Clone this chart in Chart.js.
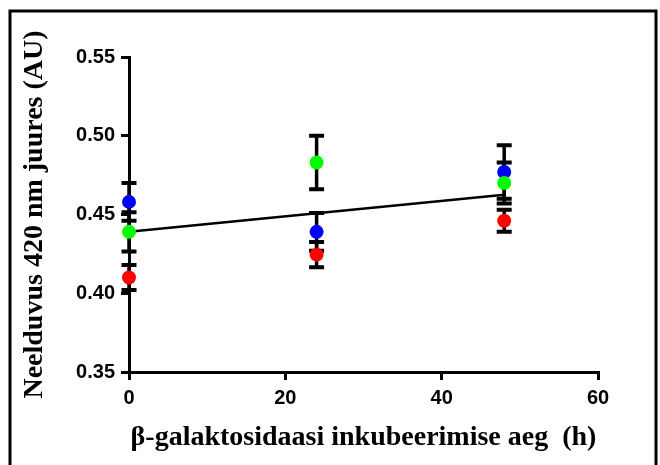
<!DOCTYPE html>
<html>
<head>
<meta charset="utf-8">
<script src="https://cdn.jsdelivr.net/npm/chart.js@4"></script>
<style>
html,body{margin:0;padding:0;background:#fff;}
#wrap{position:relative;width:660px;height:465px;overflow:hidden;}
canvas{position:absolute;left:0;top:0;}
</style>
</head>
<body>
<div id="wrap"><canvas id="c" width="660" height="465"></canvas></div>
<script>
// Data
const times = [0, 24, 48];
const blueVals = [0.458, 0.439, 0.477];
const blueErr = [0.012, 0.012, 0.017];
const greenVals = [0.439, 0.483, 0.470];
const greenErr = [0.0125, 0.017, 0.013];
const redVals = [0.410, 0.4245, 0.446];
const redErr = [0.008, 0.008, 0.007];
const fitX = [0, 48];
const fitY = [0.439, 0.4625];
const xTicks = [0, 20, 40, 60];
const yTicks = [0.35, 0.40, 0.45, 0.50, 0.55];
const xTitle = 'β-galaktosidaasi inkubeerimise aeg  (h)';
const yTitle = 'Neelduvus 420 nm juures (AU)';

function pts(xs, ys, errs) {
  return xs.map((x, i) => ({x: x, y: ys[i], err: errs ? errs[i] : 0}));
}

const frame = {
  id: 'frame',
  beforeDraw(chart) {
    const ctx = chart.ctx;
    ctx.save();
    ctx.strokeStyle = '#000';
    ctx.lineWidth = 3;
    ctx.beginPath();
    ctx.moveTo(10, 470);
    ctx.lineTo(10, 11);
    ctx.lineTo(656, 11);
    ctx.lineTo(656, 470);
    ctx.stroke();
    ctx.restore();
  }
};

const errorBars = {
  id: 'errorBars',
  beforeDatasetsDraw(chart) {
    const ctx = chart.ctx;
    const xs = chart.scales.x, ys = chart.scales.y;
    ctx.save();
    ctx.strokeStyle = '#000';
    chart.data.datasets.forEach((ds) => {
      if (!ds.showErr) return;
      ds.data.forEach((p) => {
        const px = xs.getPixelForValue(p.x);
        const top = ys.getPixelForValue(p.y + p.err);
        const bot = ys.getPixelForValue(p.y - p.err);
        ctx.lineWidth = 3.5;
        ctx.beginPath();
        ctx.moveTo(px, top);
        ctx.lineTo(px, bot);
        ctx.stroke();
        ctx.lineWidth = 4;
        ctx.beginPath();
        ctx.moveTo(px - 7.5, top);
        ctx.lineTo(px + 7.5, top);
        ctx.moveTo(px - 7.5, bot);
        ctx.lineTo(px + 7.5, bot);
        ctx.stroke();
      });
    });
    ctx.restore();
  }
};

Chart.defaults.color = '#000';

new Chart(document.getElementById('c'), {
  type: 'scatter',
  data: {
    datasets: [
      {data: pts(times, greenVals, greenErr), showErr: true, clip: false, backgroundColor: '#00ff00', borderColor: '#00ff00', pointRadius: 7, pointBorderWidth: 0},
      {data: pts(times, blueVals, blueErr), showErr: true, clip: false, backgroundColor: '#0000ff', borderColor: '#0000ff', pointRadius: 7, pointBorderWidth: 0},
      {data: pts(times, redVals, redErr), showErr: true, clip: false, backgroundColor: '#ff0000', borderColor: '#ff0000', pointRadius: 7, pointBorderWidth: 0},
      {type: 'line', data: pts(fitX, fitY), clip: false, borderColor: '#000', borderWidth: 2.5, pointRadius: 0, fill: false, showLine: true}
    ]
  },
  options: {
    responsive: false,
    animation: false,
    layout: {padding: {left: 0, right: 62, top: 57, bottom: 0}},
    plugins: {legend: {display: false}, tooltip: {enabled: false}},
    scales: {
      x: {
        type: 'linear', min: 0, max: 60,
        afterFit(s) { s.height = 93; },
        afterBuildTicks(s) { s.ticks = xTicks.map(v => ({value: v})); },
        border: {display: true, color: '#000', width: 3},
        grid: {drawOnChartArea: false, drawTicks: true, tickLength: 8, color: '#000', lineWidth: 3},
        ticks: {padding: 6, font: {family: 'Liberation Sans', weight: 'bold', size: 20}, maxRotation: 0},
        title: {display: true, text: xTitle, padding: {top: 0, bottom: 10}, font: {family: 'Liberation Serif', weight: 'bold', size: 28}}
      },
      y: {
        type: 'linear', min: 0.35, max: 0.55,
        afterFit(s) { s.width = 129; },
        afterBuildTicks(s) { s.ticks = yTicks.map(v => ({value: v})); },
        border: {display: true, color: '#000', width: 3},
        grid: {drawOnChartArea: false, drawTicks: true, tickLength: 8, color: '#000', lineWidth: 3},
        ticks: {padding: 6, font: {family: 'Liberation Sans', weight: 'bold', size: 20}, callback: v => v.toFixed(2)},
        title: {display: true, text: yTitle, padding: {top: 18, bottom: 0}, font: {family: 'Liberation Serif', weight: 'bold', size: 28}}
      }
    }
  },
  plugins: [frame, errorBars]
});
</script>
</body>
</html>
